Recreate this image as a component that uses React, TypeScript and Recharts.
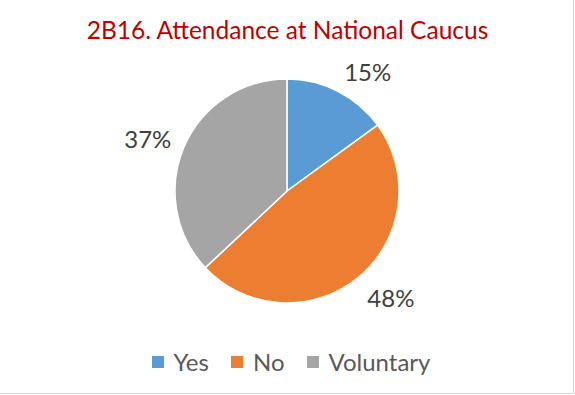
import React from 'react';
import { PieChart, Pie, Cell, Legend } from 'recharts';

const categories = ['Yes', 'No', 'Voluntary'];
const values = [15, 48, 37];
const colors = ['#5B9BD5', '#ED7D31', '#A5A5A5'];
const title = '2B16. Attendance at National Caucus';

const data = categories.map((name, i) => ({ name, value: values[i] }));

const RAD = Math.PI / 180;

const renderLabel = (props: any) => {
  const { cx, cy, midAngle, outerRadius, percent } = props;
  const c = Math.cos(midAngle * RAD);
  const s = Math.sin(midAngle * RAD);
  const r = outerRadius + 14;
  const px = cx + r * c;
  const py = cy - r * s;
  const y = py - s * 10 + 2;
  return (
    <text
      x={px}
      y={y}
      textAnchor={c >= 0 ? 'start' : 'end'}
      dominantBaseline="central"
      fill="#404040"
      style={{ fontFamily: 'Lato, sans-serif', fontSize: 24 }}
    >
      {`${Math.round(percent * 100)}%`}
    </text>
  );
};

const renderLegend = (props: any) => {
  const payload = [...(props.payload || [])].sort(
    (a: any, b: any) => categories.indexOf(a.value) - categories.indexOf(b.value)
  );
  return (
    <div
      style={{
        display: 'flex',
        justifyContent: 'center',
        alignItems: 'center',
        paddingLeft: 7,
        fontFamily: 'Lato, sans-serif',
        fontSize: 24,
        color: '#595959',
        lineHeight: '30px',
      }}
    >
      {payload.map((entry: any, i: number) => (
        <div
          key={i}
          style={{ display: 'flex', alignItems: 'center', marginRight: i < payload.length - 1 ? 22 : 0 }}
        >
          <span
            style={{ display: 'inline-block', width: 12, height: 12, background: entry.color, marginRight: 10 }}
          />
          <span>{entry.value}</span>
        </div>
      ))}
    </div>
  );
};

export default function App() {
  return (
    <div
      style={{
        position: 'absolute',
        left: 0,
        top: 0,
        width: 575,
        height: 395,
        background: '#fff',
      }}
    >
      <div
        style={{
          position: 'absolute',
          left: 0,
          top: 0,
          width: 574,
          height: 394,
          boxSizing: 'border-box',
          borderRight: '1px solid #d9d9d9',
          borderBottom: '1px solid #d9d9d9',
        }}
      />
      <div
        style={{
          position: 'absolute',
          left: 0,
          top: 13,
          width: 575,
          textAlign: 'center',
          fontFamily: 'Lato, sans-serif',
          fontSize: 24.5,
          color: '#C00000',
          lineHeight: '34px',
        }}
      >
        {title}
      </div>
      <div style={{ position: 'absolute', left: 0, top: 0 }}>
        <PieChart width={575} height={395} margin={{ top: 0, right: 0, bottom: 0, left: 0 }}>
          <Pie
            data={data}
            dataKey="value"
            nameKey="name"
            cx={287}
            cy={191}
            outerRadius={112}
            startAngle={90}
            endAngle={-270}
            stroke="#ffffff"
            strokeWidth={1.5}
            label={renderLabel}
            labelLine={false}
            isAnimationActive={false}
          >
            {data.map((d, i) => (
              <Cell key={d.name} fill={colors[i]} />
            ))}
          </Pie>
          <Legend
            content={renderLegend}
            wrapperStyle={{ position: 'absolute', left: 0, top: 347, width: 575 }}
          />
        </PieChart>
      </div>
    </div>
  );
}
